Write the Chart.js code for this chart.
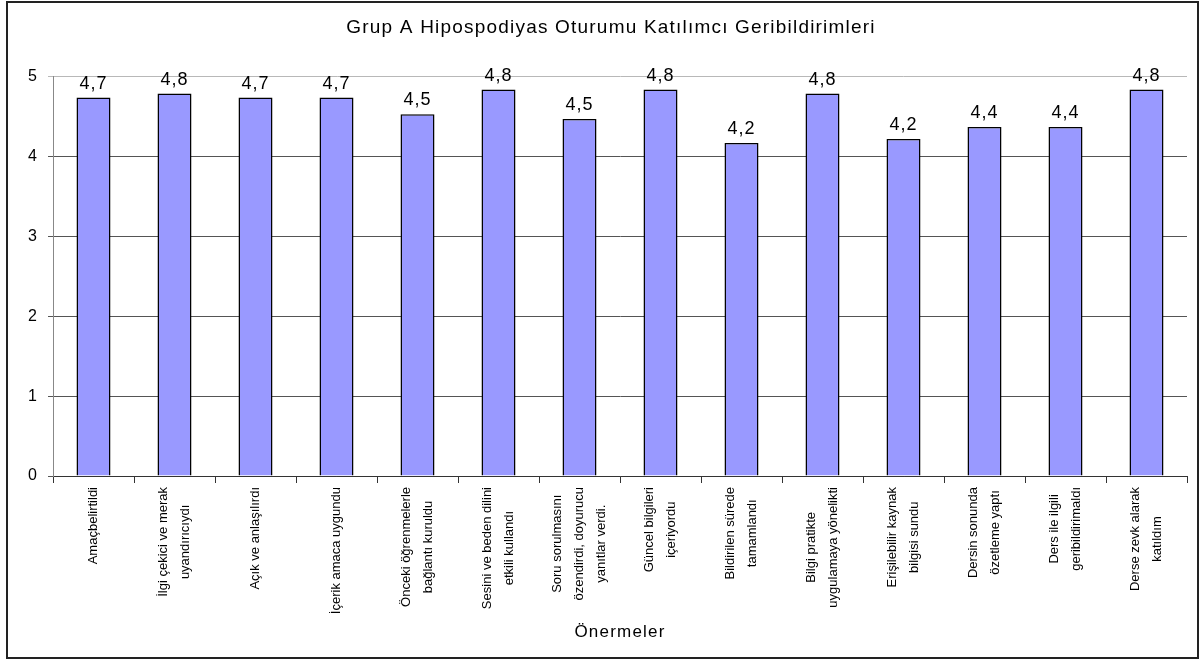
<!DOCTYPE html>
<html lang="tr">
<head>
<meta charset="utf-8">
<title>Grup A Hipospodiyas Oturumu Katılımcı Geribildirimleri</title>
<script src="https://cdn.jsdelivr.net/npm/chart.js@4.4.0/dist/chart.umd.min.js"></script>
<style>
  html, body { margin: 0; padding: 0; background: #fff; overflow: hidden; }
  #wrap { width: 1204px; height: 662px; position: relative; }
</style>
</head>
<body>
<div id="wrap"><canvas id="myChart"></canvas></div>
<script>
const chartTitle = 'Grup A Hipospodiyas Oturumu Katılımcı Geribildirimleri';
const axisTitle = 'Önermeler';

const categories = [
  ['Amaçbelirtildi'],
  ['İlgi çekici ve merak', 'uyandırıcıydı'],
  ['Açık ve anlaşılırdı'],
  ['İçerik amaca uygundu'],
  ['Önceki öğrenmelerle', 'bağlantı kuruldu'],
  ['Sesini ve beden dilini', 'etkili kullandı'],
  ['Soru sorulmasını', 'özendirdi, doyurucu', 'yanıtlar verdi.'],
  ['Güncel bilgileri', 'içeriyordu'],
  ['Bildirilen sürede', 'tamamlandı'],
  ['Bilgi pratikte', 'uygulamaya yönelikti'],
  ['Erişilebilir kaynak', 'bilgisi sundu'],
  ['Dersin sonunda', 'özetleme yaptı'],
  ['Ders ile ilgili', 'geribildirimaldı'],
  ['Derse zevk alarak', 'katıldım']
];

const puanlar = [4.74, 4.79, 4.74, 4.74, 4.53, 4.84, 4.47, 4.84, 4.17, 4.79, 4.22, 4.37, 4.37, 4.84];

const yTicks = [0, 1, 2, 3, 4, 5];

const fontName = '"Liberation Sans", Arial, sans-serif';

// cerceve, arka plan, baslik kaydirma
const framePlugin = {
  id: 'frame',
  afterLayout(chart) {
    if (chart.titleBlock) chart.titleBlock.left = 35;
  },
  beforeDraw(chart) {
    const ctx = chart.ctx;
    ctx.save();
    ctx.fillStyle = '#fff';
    ctx.fillRect(0, 0, chart.width, chart.height);
    ctx.restore();
    ctx.letterSpacing = '1.2px';
  },
  afterDraw(chart) {
    const ctx = chart.ctx;
    ctx.save();
    ctx.strokeStyle = '#222';
    ctx.lineWidth = 2;
    ctx.strokeRect(7, 2, 1191, 656);
    ctx.restore();
  }
};

// bar ustu degerler, virgul ile
const valuePlugin = {
  id: 'valueLabels',
  afterDatasetsDraw(chart) {
    const ctx = chart.ctx;
    const meta = chart.getDatasetMeta(0);
    ctx.save();
    ctx.letterSpacing = '1px';
    ctx.font = '18px ' + fontName;
    ctx.fillStyle = '#000';
    ctx.textAlign = 'center';
    ctx.textBaseline = 'alphabetic';
    meta.data.forEach((bar, i) => {
      const txt = puanlar[i].toFixed(1).replace('.', ',');
      ctx.fillText(txt, bar.x, bar.y - 9);
    });
    ctx.restore();
  }
};

// dikey kategori etiketleri, satirlar ortali
const catPlugin = {
  id: 'catLabels',
  afterDraw(chart) {
    const ctx = chart.ctx;
    const xScale = chart.scales.x;
    ctx.save();
    ctx.letterSpacing = '0px';
    ctx.font = '13px ' + fontName;
    ctx.fillStyle = '#000';
    ctx.textAlign = 'center';
    ctx.textBaseline = 'middle';
    categories.forEach((lines, i) => {
      const x = xScale.getPixelForValue(i);
      let maxW = 0;
      lines.forEach(l => { maxW = Math.max(maxW, ctx.measureText(l).width); });
      const cy = xScale.top + 11 + maxW / 2;
      lines.forEach((l, j) => {
        const cx = x + (j - (lines.length - 1) / 2) * 22;
        ctx.save();
        ctx.translate(cx, cy);
        ctx.rotate(-Math.PI / 2);
        ctx.fillText(l, 0, 0);
        ctx.restore();
      });
    });
    ctx.restore();
  }
};

const ctx = document.getElementById('myChart').getContext('2d');

new Chart(ctx, {
  type: 'bar',
  data: {
    labels: categories,
    datasets: [{
      label: 'Puan',
      data: puanlar,
      backgroundColor: '#9999ff',
      borderColor: '#000',
      borderWidth: 1.5,
      barPercentage: 0.42,
      categoryPercentage: 1
    }]
  },
  options: {
    responsive: true,
    maintainAspectRatio: false,
    animation: false,
    layout: {
      padding: { top: 4, left: 8, right: 17, bottom: 6 }
    },
    plugins: {
      legend: { display: false },
      tooltip: { enabled: false },
      title: {
        display: true,
        text: chartTitle,
        color: '#000',
        font: { family: fontName, size: 19, weight: 'normal' },
        padding: { top: 12, bottom: 38 }
      }
    },
    scales: {
      x: {
        grid: {
          display: true,
          drawOnChartArea: false,
          drawTicks: true,
          tickLength: 7,
          color: '#333',
          offset: true
        },
        border: { color: '#333', width: 1 },
        ticks: { display: false },
        title: {
          display: true,
          text: axisTitle,
          color: '#000',
          font: { family: fontName, size: 17 },
          padding: { top: 0, bottom: 13 }
        },
        afterFit(scale) { scale.height = 180; }
      },
      y: {
        min: 0,
        max: 5,
        afterBuildTicks(scale) { scale.ticks = yTicks.map(v => ({ value: v })); },
        grid: {
          color: c => (c.tick && c.tick.value === 5) ? '#b8b8b8' : '#555',
          tickLength: 5,
          drawTicks: true
        },
        border: { color: '#888', width: 1 },
        ticks: {
          color: '#000',
          padding: 10,
          font: { family: fontName, size: 16 }
        },
        afterFit(scale) { scale.width = 45; }
      }
    }
  },
  plugins: [framePlugin, valuePlugin, catPlugin]
});
</script>
</body>
</html>
